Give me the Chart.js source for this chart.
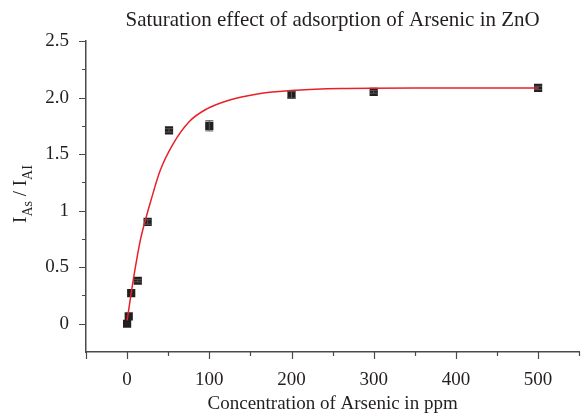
<!DOCTYPE html>
<html lang="en">
<head>
  <meta charset="UTF-8">
  <title>Saturation effect of adsorption of Arsenic in ZnO</title>
  <script src="https://cdn.jsdelivr.net/npm/chart.js"></script>
  <style>
    html, body { margin: 0; padding: 0; background: #fff; overflow: hidden; }
    /* a little wider than the window: Chart.js keeps ~5px free on the right */
    #wrap { width: 585px; height: 415px; }
  </style>
</head>
<body>
  <div id="wrap"><canvas id="satChart"></canvas></div>

  <script>
    // measured points (ppm, I_As / I_AI) with error bars
    const conc = [0, 2, 5, 13, 25, 51, 100, 200, 300, 500];
    const ratio = [0.0, 0.065, 0.27, 0.38, 0.90, 1.71, 1.75, 2.025, 2.05, 2.085];
    const ratioErr = [0, 0, 0, 0.01, 0.02, 0.015, 0.045, 0.03, 0.012, 0.015];

    // fitted curve
    const fitX = [0, 8, 16, 22, 29, 40, 56, 76, 97, 121, 157, 206, 260, 350, 500];
    const fitY = [0.03, 0.41, 0.735, 0.91, 1.09, 1.35, 1.59, 1.79, 1.90, 1.97, 2.03, 2.065, 2.08, 2.085, 2.085];

    const xTickValues = [0, 100, 200, 300, 400, 500];
    const xTickLabels = ['0', '100', '200', '300', '400', '500'];
    const yTickValues = [0, 0.5, 1, 1.5, 2, 2.5];
    const yTickLabels = ['0', '0.5', '1', '1.5', '2.0', '2.5'];

    const chartTitle = 'Saturation effect of adsorption of Arsenic in ZnO';

    const INK = '#231f20';
    const AXIS = '#4a4a4a';
    const SERIF = '"Liberation Serif", "DejaVu Serif", serif';

    function labelFor(values, labels, v) {
      const i = values.findIndex(t => Math.abs(t - v) < 1e-6);
      return i >= 0 ? labels[i] : '';
    }

    // outward ticks, long for labelled values and short for the rest
    const tickMarks = {
      id: 'tickMarks',
      afterDraw(chart) {
        const ctx = chart.ctx;
        const xs = chart.scales.x, ys = chart.scales.y;
        const area = chart.chartArea;
        ctx.save();
        ctx.strokeStyle = AXIS;
        ctx.lineWidth = 1.2;
        ctx.beginPath();
        xs.ticks.forEach(t => {
          const px = Math.round(xs.getPixelForValue(t.value)) + 0.5;
          const len = labelFor(xTickValues, xTickLabels, t.value) || t.value === -50 ? 7 : 4;
          ctx.moveTo(px, area.bottom);
          ctx.lineTo(px, area.bottom + len);
        });
        ys.ticks.forEach(t => {
          if (t.value < -0.1) return;
          const py = Math.round(ys.getPixelForValue(t.value)) + 0.5;
          const len = labelFor(yTickValues, yTickLabels, t.value) ? 7 : 4;
          ctx.moveTo(area.left, py);
          ctx.lineTo(area.left - len, py);
        });
        ctx.stroke();
        ctx.restore();
      }
    };

    // vertical error bars with caps
    const errorBars = {
      id: 'errorBars',
      afterDatasetsDraw(chart) {
        const ctx = chart.ctx;
        const xs = chart.scales.x, ys = chart.scales.y;
        ctx.save();
        ctx.strokeStyle = '#555';
        ctx.lineWidth = 1;
        conc.forEach((c, i) => {
          const e = ratioErr[i];
          if (!e) return;
          const px = xs.getPixelForValue(c);
          const top = ys.getPixelForValue(ratio[i] + e);
          const bot = ys.getPixelForValue(ratio[i] - e);
          ctx.beginPath();
          ctx.moveTo(px, top); ctx.lineTo(px, bot);
          ctx.moveTo(px - 4, top); ctx.lineTo(px + 4, top);
          ctx.moveTo(px - 4, bot); ctx.lineTo(px + 4, bot);
          ctx.stroke();
        });
        ctx.restore();
      }
    };

    // title centred over the plot area, y title with subscripts
    const texts = {
      id: 'texts',
      afterDraw(chart) {
        const ctx = chart.ctx;
        const area = chart.chartArea;
        ctx.save();
        ctx.fillStyle = INK;
        ctx.font = '21px ' + SERIF;
        ctx.textAlign = 'center';
        ctx.textBaseline = 'alphabetic';
        ctx.fillText(chartTitle, (area.left + area.right) / 2, 26);

        const big = '19px ' + SERIF, small = '14px ' + SERIF;
        const parts = [['I', big, 0], ['As', small, 6], [' / I', big, 0], ['AI', small, 6]];
        ctx.textAlign = 'left';
        let w = 0;
        parts.forEach(p => { ctx.font = p[1]; w += ctx.measureText(p[0]).width; });
        ctx.translate(26, 194);
        ctx.rotate(-Math.PI / 2);
        let x = -w / 2;
        parts.forEach(p => {
          ctx.font = p[1];
          ctx.fillText(p[0], x, p[2]);
          x += ctx.measureText(p[0]).width;
        });
        ctx.restore();
      }
    };

    new Chart(document.getElementById('satChart'), {
      type: 'scatter',
      data: {
        datasets: [
          {
            label: 'fit',
            data: fitX.map((x, i) => ({ x: x, y: fitY[i] })),
            showLine: true,
            borderColor: '#e8202a',
            borderWidth: 1.5,
            pointRadius: 0,
            cubicInterpolationMode: 'monotone',
            order: 0
          },
          {
            label: 'measured',
            data: conc.map((x, i) => ({ x: x, y: ratio[i] })),
            pointStyle: 'rect',
            pointRadius: 5.8,
            pointBorderWidth: 0,
            backgroundColor: INK,
            borderColor: INK,
            order: 1
          }
        ]
      },
      options: {
        responsive: true,
        maintainAspectRatio: false,
        animation: false,
        layout: { padding: { left: 0, right: 0, top: 41, bottom: 0 } },
        plugins: {
          legend: { display: false },
          tooltip: { enabled: false },
          title: { display: false }
        },
        scales: {
          x: {
            type: 'linear',
            min: -50,
            max: 550,
            afterFit: s => { s.height = 63; s.paddingLeft = 0; s.paddingRight = 0; },
            grid: { display: false, drawTicks: false },
            border: { display: true, color: AXIS, width: 1.5 },
            ticks: {
              stepSize: 50,
              autoSkip: false,
              maxRotation: 0,
              padding: 17,
              color: INK,
              font: { family: SERIF, size: 19 },
              callback: v => labelFor(xTickValues, xTickLabels, v)
            },
            title: {
              display: true,
              text: 'Concentration of Arsenic in ppm',
              color: INK,
              font: { family: SERIF, size: 19 },
              padding: { top: 0, bottom: 0 }
            }
          },
          y: {
            type: 'linear',
            min: -0.25,
            max: 2.5,
            afterFit: s => { s.width = 86; },
            grid: { display: false, drawTicks: false },
            border: { display: true, color: AXIS, width: 1.5 },
            ticks: {
              stepSize: 0.25,
              autoSkip: false,
              padding: 17,
              color: INK,
              font: { family: SERIF, size: 19 },
              callback: v => labelFor(yTickValues, yTickLabels, v)
            }
          }
        }
      },
      plugins: [tickMarks, errorBars, texts]
    });
  </script>
</body>
</html>
